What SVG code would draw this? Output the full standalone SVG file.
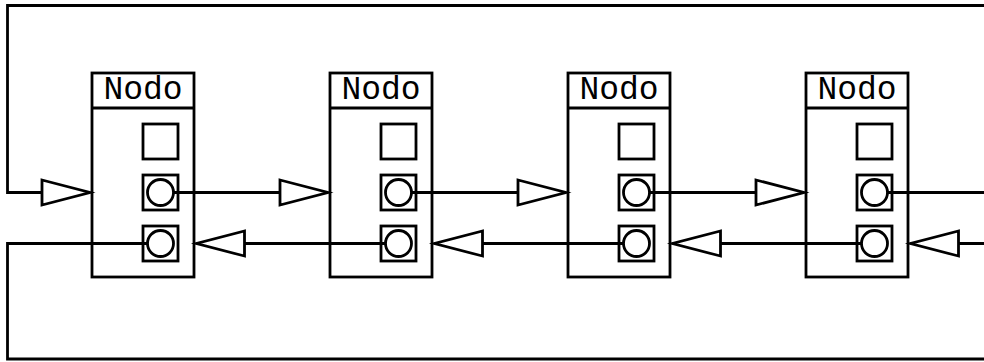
<svg xmlns="http://www.w3.org/2000/svg" width="984" height="362" viewBox="0 0 984 362">
<style>
.ln{fill:none;stroke:#000;stroke-width:2.8}
.bx{fill:#fff;stroke:#000;stroke-width:2.8}
.tx{font-family:"Liberation Mono","Courier New",monospace;font-size:33px;fill:#000;text-anchor:middle}
</style>
<defs>
<marker id="tri" markerUnits="userSpaceOnUse" viewBox="-3 -3 54 31" markerWidth="54" markerHeight="31" refX="48" refY="12.5" orient="auto" overflow="visible">
<path d="M0,0 L48,12.5 L0,25 Z" fill="#fff" stroke="#000" stroke-width="2.8"/>
</marker>
</defs>
<g id="node1">
<rect class="bx" x="92" y="73" width="102" height="204"/>
<line class="ln" x1="92" y1="108" x2="194" y2="108"/>
<text class="tx" x="143" y="99">Nodo</text>
<rect class="bx" x="143" y="124" width="35" height="35"/>
<rect class="bx" x="143" y="175" width="35" height="35"/>
<circle class="bx" cx="160.5" cy="192.5" r="13"/>
<rect class="bx" x="143" y="226" width="35" height="35"/>
<circle class="bx" cx="160.5" cy="243.5" r="13"/>
</g>
<g id="node2">
<rect class="bx" x="330" y="73" width="102" height="204"/>
<line class="ln" x1="330" y1="108" x2="432" y2="108"/>
<text class="tx" x="381" y="99">Nodo</text>
<rect class="bx" x="381" y="124" width="35" height="35"/>
<rect class="bx" x="381" y="175" width="35" height="35"/>
<circle class="bx" cx="398.5" cy="192.5" r="13"/>
<rect class="bx" x="381" y="226" width="35" height="35"/>
<circle class="bx" cx="398.5" cy="243.5" r="13"/>
</g>
<g id="node3">
<rect class="bx" x="568" y="73" width="102" height="204"/>
<line class="ln" x1="568" y1="108" x2="670" y2="108"/>
<text class="tx" x="619" y="99">Nodo</text>
<rect class="bx" x="619" y="124" width="35" height="35"/>
<rect class="bx" x="619" y="175" width="35" height="35"/>
<circle class="bx" cx="636.5" cy="192.5" r="13"/>
<rect class="bx" x="619" y="226" width="35" height="35"/>
<circle class="bx" cx="636.5" cy="243.5" r="13"/>
</g>
<g id="node4">
<rect class="bx" x="806" y="73" width="102" height="204"/>
<line class="ln" x1="806" y1="108" x2="908" y2="108"/>
<text class="tx" x="857" y="99">Nodo</text>
<rect class="bx" x="857" y="124" width="35" height="35"/>
<rect class="bx" x="857" y="175" width="35" height="35"/>
<circle class="bx" cx="874.5" cy="192.5" r="13"/>
<rect class="bx" x="857" y="226" width="35" height="35"/>
<circle class="bx" cx="874.5" cy="243.5" r="13"/>
</g>
<g id="connectors">
<path class="ln" d="M984,5.5 H7.5 V192.5 H90" marker-end="url(#tri)"/>
<path class="ln" d="M147.5,243.5 H7.5 V359 H984"/>
<path class="ln" d="M173.5,192.5 H328" marker-end="url(#tri)"/>
<path class="ln" d="M411.5,192.5 H566" marker-end="url(#tri)"/>
<path class="ln" d="M649.5,192.5 H804" marker-end="url(#tri)"/>
<path class="ln" d="M887.5,192.5 H984"/>
<path class="ln" d="M385.5,243.5 H196.5" marker-end="url(#tri)"/>
<path class="ln" d="M623.5,243.5 H434.5" marker-end="url(#tri)"/>
<path class="ln" d="M861.5,243.5 H672.5" marker-end="url(#tri)"/>
<path class="ln" d="M984,243.5 H910.5" marker-end="url(#tri)"/>
</g>
</svg>
